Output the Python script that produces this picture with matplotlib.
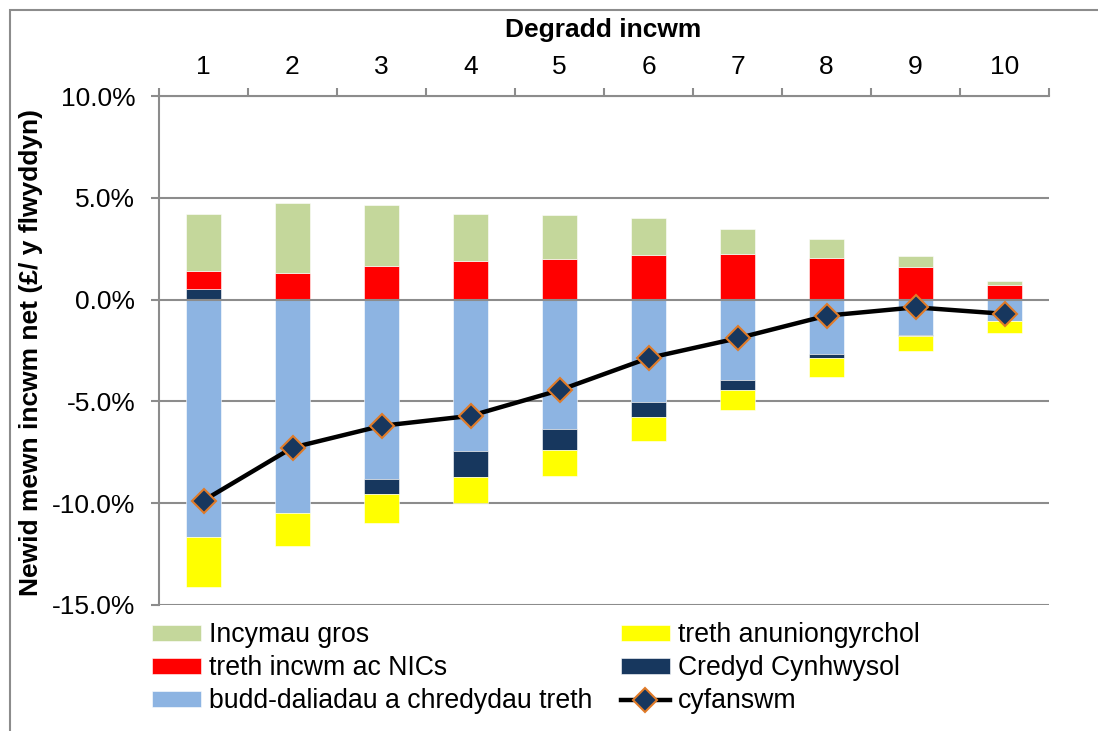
import matplotlib.pyplot as plt
import numpy as np
from matplotlib.patches import Rectangle

plt.rcParams['font.family'] = ['Liberation Sans', 'DejaVu Sans']

# Income deciles and components (% change in net income)
deciles = ['1', '2', '3', '4', '5', '6', '7', '8', '9', '10']
gross_income = [2.80, 3.45, 2.98, 2.33, 2.14, 1.82, 1.26, 0.92, 0.53, 0.18]
income_tax_nics = [0.88, 1.31, 1.67, 1.89, 2.00, 2.18, 2.22, 2.04, 1.59, 0.71]
benefits = [-11.67, -10.49, -8.83, -7.42, -6.34, -5.04, -3.94, -2.66, -1.74, -1.03]
indirect_tax = [-2.45, -1.59, -1.39, -1.26, -1.26, -1.18, -1.00, -0.89, -0.74, -0.60]
universal_credit = [0.51, 0.0, -0.73, -1.30, -1.05, -0.71, -0.49, -0.23, -0.06, -0.02]
total = [-9.87, -7.27, -6.20, -5.71, -4.45, -2.87, -1.90, -0.79, -0.38, -0.70]

GREEN = '#C4D79B'
RED = '#FF0000'
BLUE = '#8DB4E2'
NAVY = '#17375E'
YELLOW = '#FFFF00'
GREY = '#8C8C8C'

fig = plt.figure(figsize=(10.98, 7.31), dpi=100)
ax = fig.add_axes([159 / 1098, 1 - 605 / 731, 890 / 1098, 509 / 731])

x = np.arange(1, len(deciles) + 1)
width = 0.4

# stacking order: negatives go blue, navy, yellow; positives navy, red, green
series = [
    (benefits, BLUE, 'budd-daliadau a chredydau treth'),
    (universal_credit, NAVY, 'Credyd Cynhwysol'),
    (income_tax_nics, RED, 'treth incwm ac NICs'),
    (indirect_tax, YELLOW, 'treth anuniongyrchol'),
    (gross_income, GREEN, 'Incymau gros'),
]
pos_base = np.zeros(len(x))
neg_base = np.zeros(len(x))
handles = {}
for vals, color, label in series:
    v = np.array(vals)
    bottom = np.where(v >= 0, pos_base, neg_base)
    b = ax.bar(x, v, width, bottom=bottom, color=color, edgecolor='white',
               linewidth=0.4, zorder=2, label=label)
    handles[label] = b
    pos_base = pos_base + np.where(v >= 0, v, 0)
    neg_base = neg_base + np.where(v < 0, v, 0)

line, = ax.plot(x, total, color='black', linewidth=3.2, marker='D', markersize=12,
                markerfacecolor=NAVY, markeredgecolor='#E07B28', markeredgewidth=1.5,
                zorder=4, label='cyfanswm')

ax.set_xlim(0.5, 10.5)
ax.set_ylim(-15, 10)
yt = [-15, -10, -5, 0, 5, 10]
ax.set_yticks(yt)
ax.set_yticklabels([f'{v:.1f}%' for v in yt])
for v in yt:
    ax.axhline(v, color=GREY, linewidth=1.5, zorder=3 if v == 0 else 1)

ax.xaxis.tick_top()
ax.xaxis.set_label_position('top')
ax.set_xticks(np.arange(0.5, 11, 1))
ax.set_xticklabels([])
ax.set_xticks(x, minor=True)
ax.set_xticklabels(deciles, minor=True)
ax.tick_params(axis='x', which='major', direction='out', length=6, width=1.5, color=GREY)
ax.tick_params(axis='x', which='minor', length=0, pad=12, labelsize=19)
ax.tick_params(axis='y', direction='out', length=6, width=1.5, color=GREY, labelsize=19, pad=11)

for s in ['bottom', 'right']:
    ax.spines[s].set_visible(False)
for s in ['top', 'left']:
    ax.spines[s].set_color(GREY)
    ax.spines[s].set_linewidth(1.5)

fig.text(603 / 1098, 1 - 30 / 731, 'Degradd incwm', fontsize=19, fontweight='bold',
         ha='center', va='center')
fig.text(31 / 1098, 1 - 352 / 731, 'Newid mewn incwm net (£/ y flwyddyn)', fontsize=19,
         fontweight='bold', rotation=90, ha='center', va='center')

order = ['Incymau gros', 'treth incwm ac NICs', 'budd-daliadau a chredydau treth',
         'treth anuniongyrchol', 'Credyd Cynhwysol']
leg_handles = [handles[k] for k in order] + [line]
leg_labels = order + ['cyfanswm']
fig.legend(leg_handles, leg_labels, ncol=2, loc='upper left',
           bbox_to_anchor=(152 / 1098, 1 - 622 / 731), frameon=False, fontsize=19.2,
           handlelength=1.85, handleheight=0.55, handletextpad=0.3,
           labelspacing=0.27, columnspacing=1.05, borderaxespad=0, borderpad=0)

# chart border
fig.patches.append(Rectangle((10 / 1098, -0.1), 1.2, 1.1 - 10 / 731,
                             transform=fig.transFigure, fill=False,
                             edgecolor=GREY, linewidth=1.5))

fig.savefig('out.png', dpi=100)
